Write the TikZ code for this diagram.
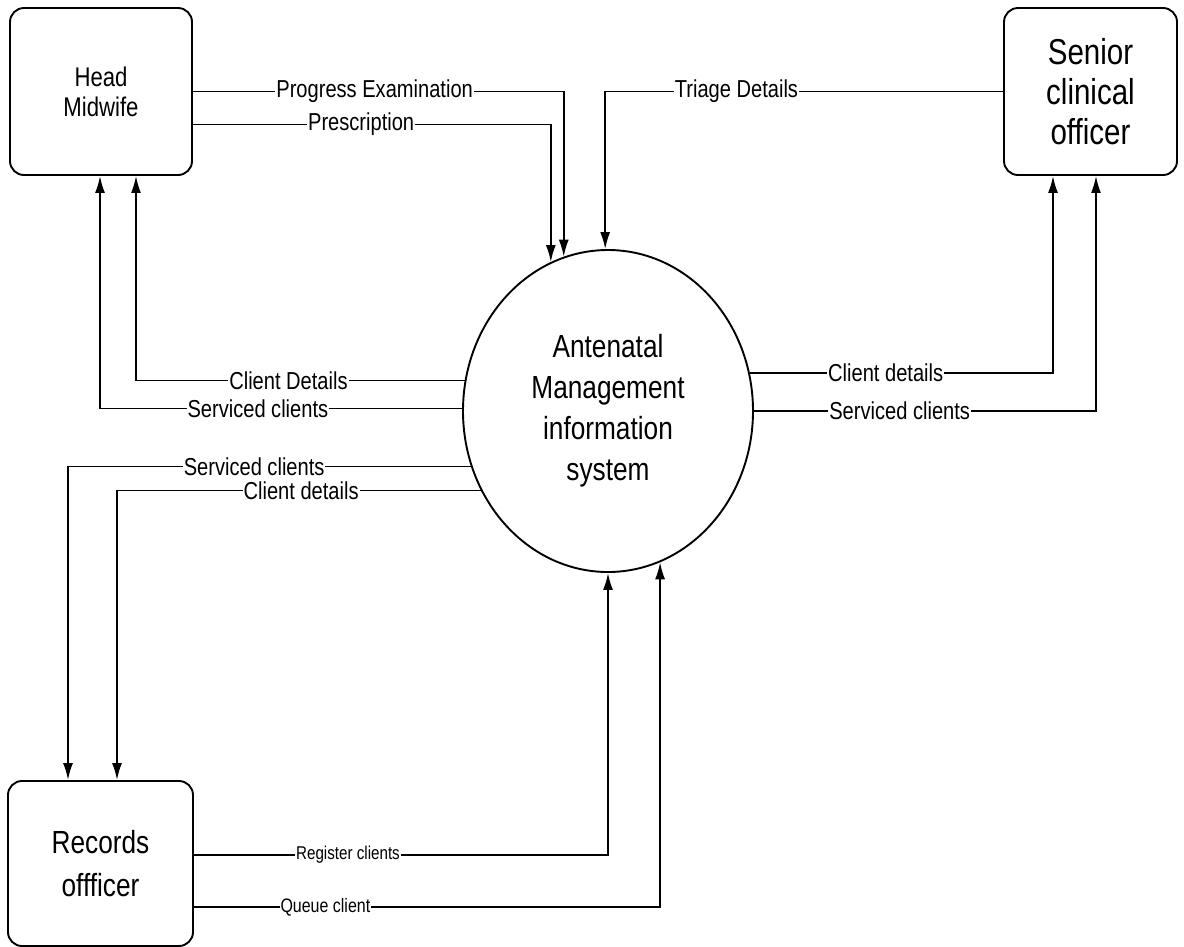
\documentclass[tikz,border=0pt]{standalone}
\usepackage{fontspec}
\setmainfont{Liberation Sans}[FakeStretch=0.82]
\usetikzlibrary{shapes.geometric,arrows.meta}

\begin{document}
\begin{tikzpicture}[
        x=1pt, y=-1pt,
        entity/.style={draw=black, line width=1.9pt, rectangle, rounded corners=14pt, align=center, inner sep=0pt},
        process/.style={draw=black, line width=1.9pt, ellipse, align=center, inner sep=0pt, minimum width=290pt, minimum height=322pt,
            font=\fontsize{32}{41}\selectfont},
        flow/.style={line width=1.8pt, -{Latex[length=17pt,width=10pt]}},
        lbl/.style={fill=white, inner sep=1pt, font=\fontsize{24.5}{26}\selectfont},
        smalllbl/.style={fill=white, inner sep=1pt, font=\fontsize{18.5}{20}\selectfont}
    ]
        \useasboundingbox (0,0) rectangle (1184,946);

        \node[entity, minimum width=182pt, minimum height=167pt, font=\fontsize{27}{30}\selectfont] (hm) at (101, 91.5) {Head\\Midwife};
        \node[entity, minimum width=173pt, minimum height=167pt, font=\fontsize{36}{40}\selectfont] (sco) at (1090.5, 91.5) {Senior\\clinical\\officer};
        \node[entity, minimum width=185pt, minimum height=165pt, font=\fontsize{32}{43}\selectfont] (ro) at (100.5, 863.5) {Records\\offficer};
        \node[process] (amis) at (608, 411) {Antenatal\\Management\\information\\system};

        \draw[flow] (hm.east) -| node[lbl, pos=0.245] {Progress Examination} (amis.106.8);
        \draw[flow] ([yshift=-33pt]hm.east) -| node[lbl, pos=0.235] {Prescription} (amis.111.9);
        \draw[flow] (sco.west) -| node[lbl, pos=0.335] {Triage Details} (amis.91);

        \draw[flow] (amis.168.1) -| node[lbl, pos=0.268] {Client Details} ([xshift=35pt]hm.south);
        \draw[flow] (amis.179.2) -| node[lbl, pos=0.282] {Serviced clients} ([xshift=-1pt]hm.south);

        \draw[flow] (amis.202.4) -| node[lbl, pos=0.269] {Serviced clients} ([xshift=-32.5pt]ro.north);
        \draw[flow] (amis.212.5) -| node[lbl, pos=0.247] {Client details} ([xshift=16.5pt]ro.north);

        \draw[flow] (amis.15.1) -| node[lbl, pos=0.224] {Client details} ([xshift=-37.5pt]sco.south);
        \draw[flow] (amis.0.8) -| node[lbl, pos=0.213] {Serviced clients} ([xshift=5.5pt]sco.south);

        \draw[flow] ([yshift=8.5pt]ro.east) -| node[smalllbl, pos=0.186] {Register clients} (amis.270.4);
        \draw[flow] ([yshift=-43.5pt]ro.east) -| node[smalllbl, pos=0.141, font=\fontsize{19.5}{21}\selectfont] {Queue client} (amis.289.9);
    \end{tikzpicture}
\end{document}
